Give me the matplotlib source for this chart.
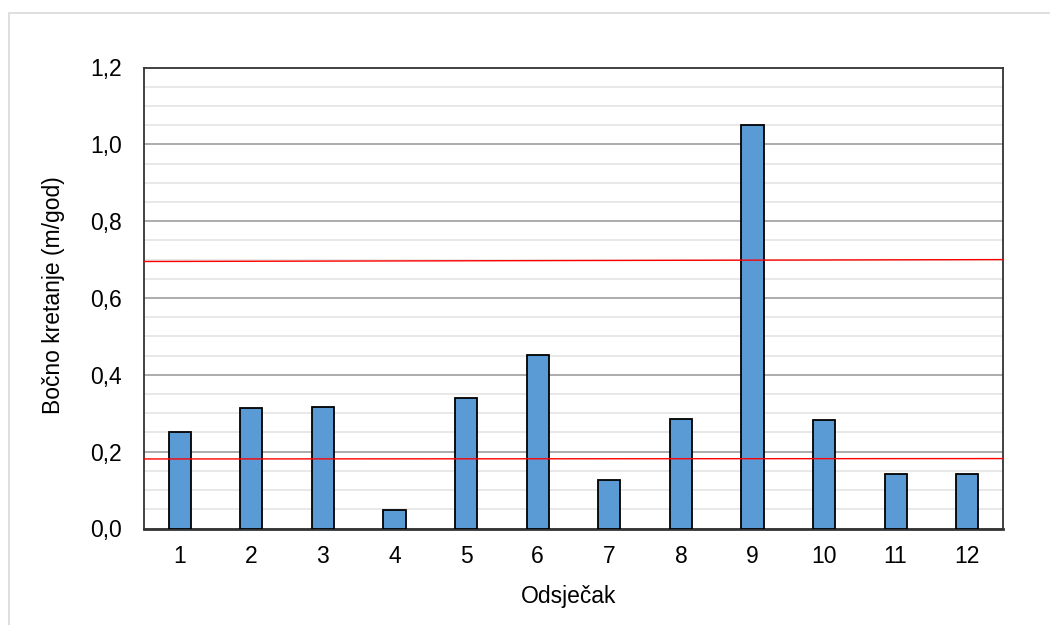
import matplotlib
matplotlib.use("Agg")
import matplotlib.pyplot as plt
from matplotlib.patches import Rectangle
from matplotlib.ticker import MultipleLocator, FuncFormatter

plt.rcParams['font.family'] = ['Liberation Sans', 'DejaVu Sans']

categories = ["1", "2", "3", "4", "5", "6", "7", "8", "9", "10", "11", "12"]
values = [0.252, 0.314, 0.317, 0.049, 0.339, 0.452, 0.125, 0.285, 1.051, 0.282, 0.141, 0.142]
upper_line = (0.695, 0.700)
lower_line = (0.181, 0.182)

fig = plt.figure(figsize=(10.5, 6.25), dpi=100)
fig.patches.append(Rectangle((9/1050, -0.1), 1.2, 1.1 - 13/625, transform=fig.transFigure,
                             fill=False, edgecolor='#d9d9d9', linewidth=1.2))
ax = fig.add_axes([144/1050, 1 - 528.5/625, (1003 - 144)/1050, (528.5 - 67.5)/625])

x = list(range(len(categories)))
ax.bar(x, values, width=0.31, color='#5b9bd5', edgecolor='black', linewidth=1.3, zorder=3)

ax.set_xlim(-0.5, len(categories) - 0.5)
ax.set_ylim(0, 1.2)
ax.yaxis.set_major_locator(MultipleLocator(0.2))
ax.yaxis.set_minor_locator(MultipleLocator(0.05))
ax.yaxis.set_major_formatter(FuncFormatter(lambda v, p: f"{v:.1f}".replace('.', ',')))
ax.grid(axis='y', which='major', color='#a6a6a6', linewidth=1.3, zorder=1)
ax.grid(axis='y', which='minor', color='#e6e6e6', linewidth=1.3, zorder=1)
ax.set_axisbelow(True)

ax.plot([-0.5, len(categories) - 0.5], upper_line, color='#ff0000', linewidth=1.0, zorder=4)
ax.plot([-0.5, len(categories) - 0.5], lower_line, color='#ff0000', linewidth=1.0, zorder=4)

ax.set_xticks(x)
ax.set_xticklabels(categories)
ax.tick_params(axis='both', which='both', length=0, labelsize=16.5, colors='black')
ax.tick_params(axis='y', pad=16)
ax.tick_params(axis='x', pad=12)
for s in ax.spines.values():
    s.set_color('#333333')
    s.set_linewidth(1.3)
ax.spines['bottom'].set_linewidth(2)

ax.set_xlabel("Odsječak", fontsize=16.5)
ax.set_ylabel("Bočno kretanje (m/god)", fontsize=16.5)
ax.xaxis.set_label_coords(0.494, -0.122)
ax.yaxis.set_label_coords(-0.092, 0.507)

fig.savefig("out.png", dpi=100)
